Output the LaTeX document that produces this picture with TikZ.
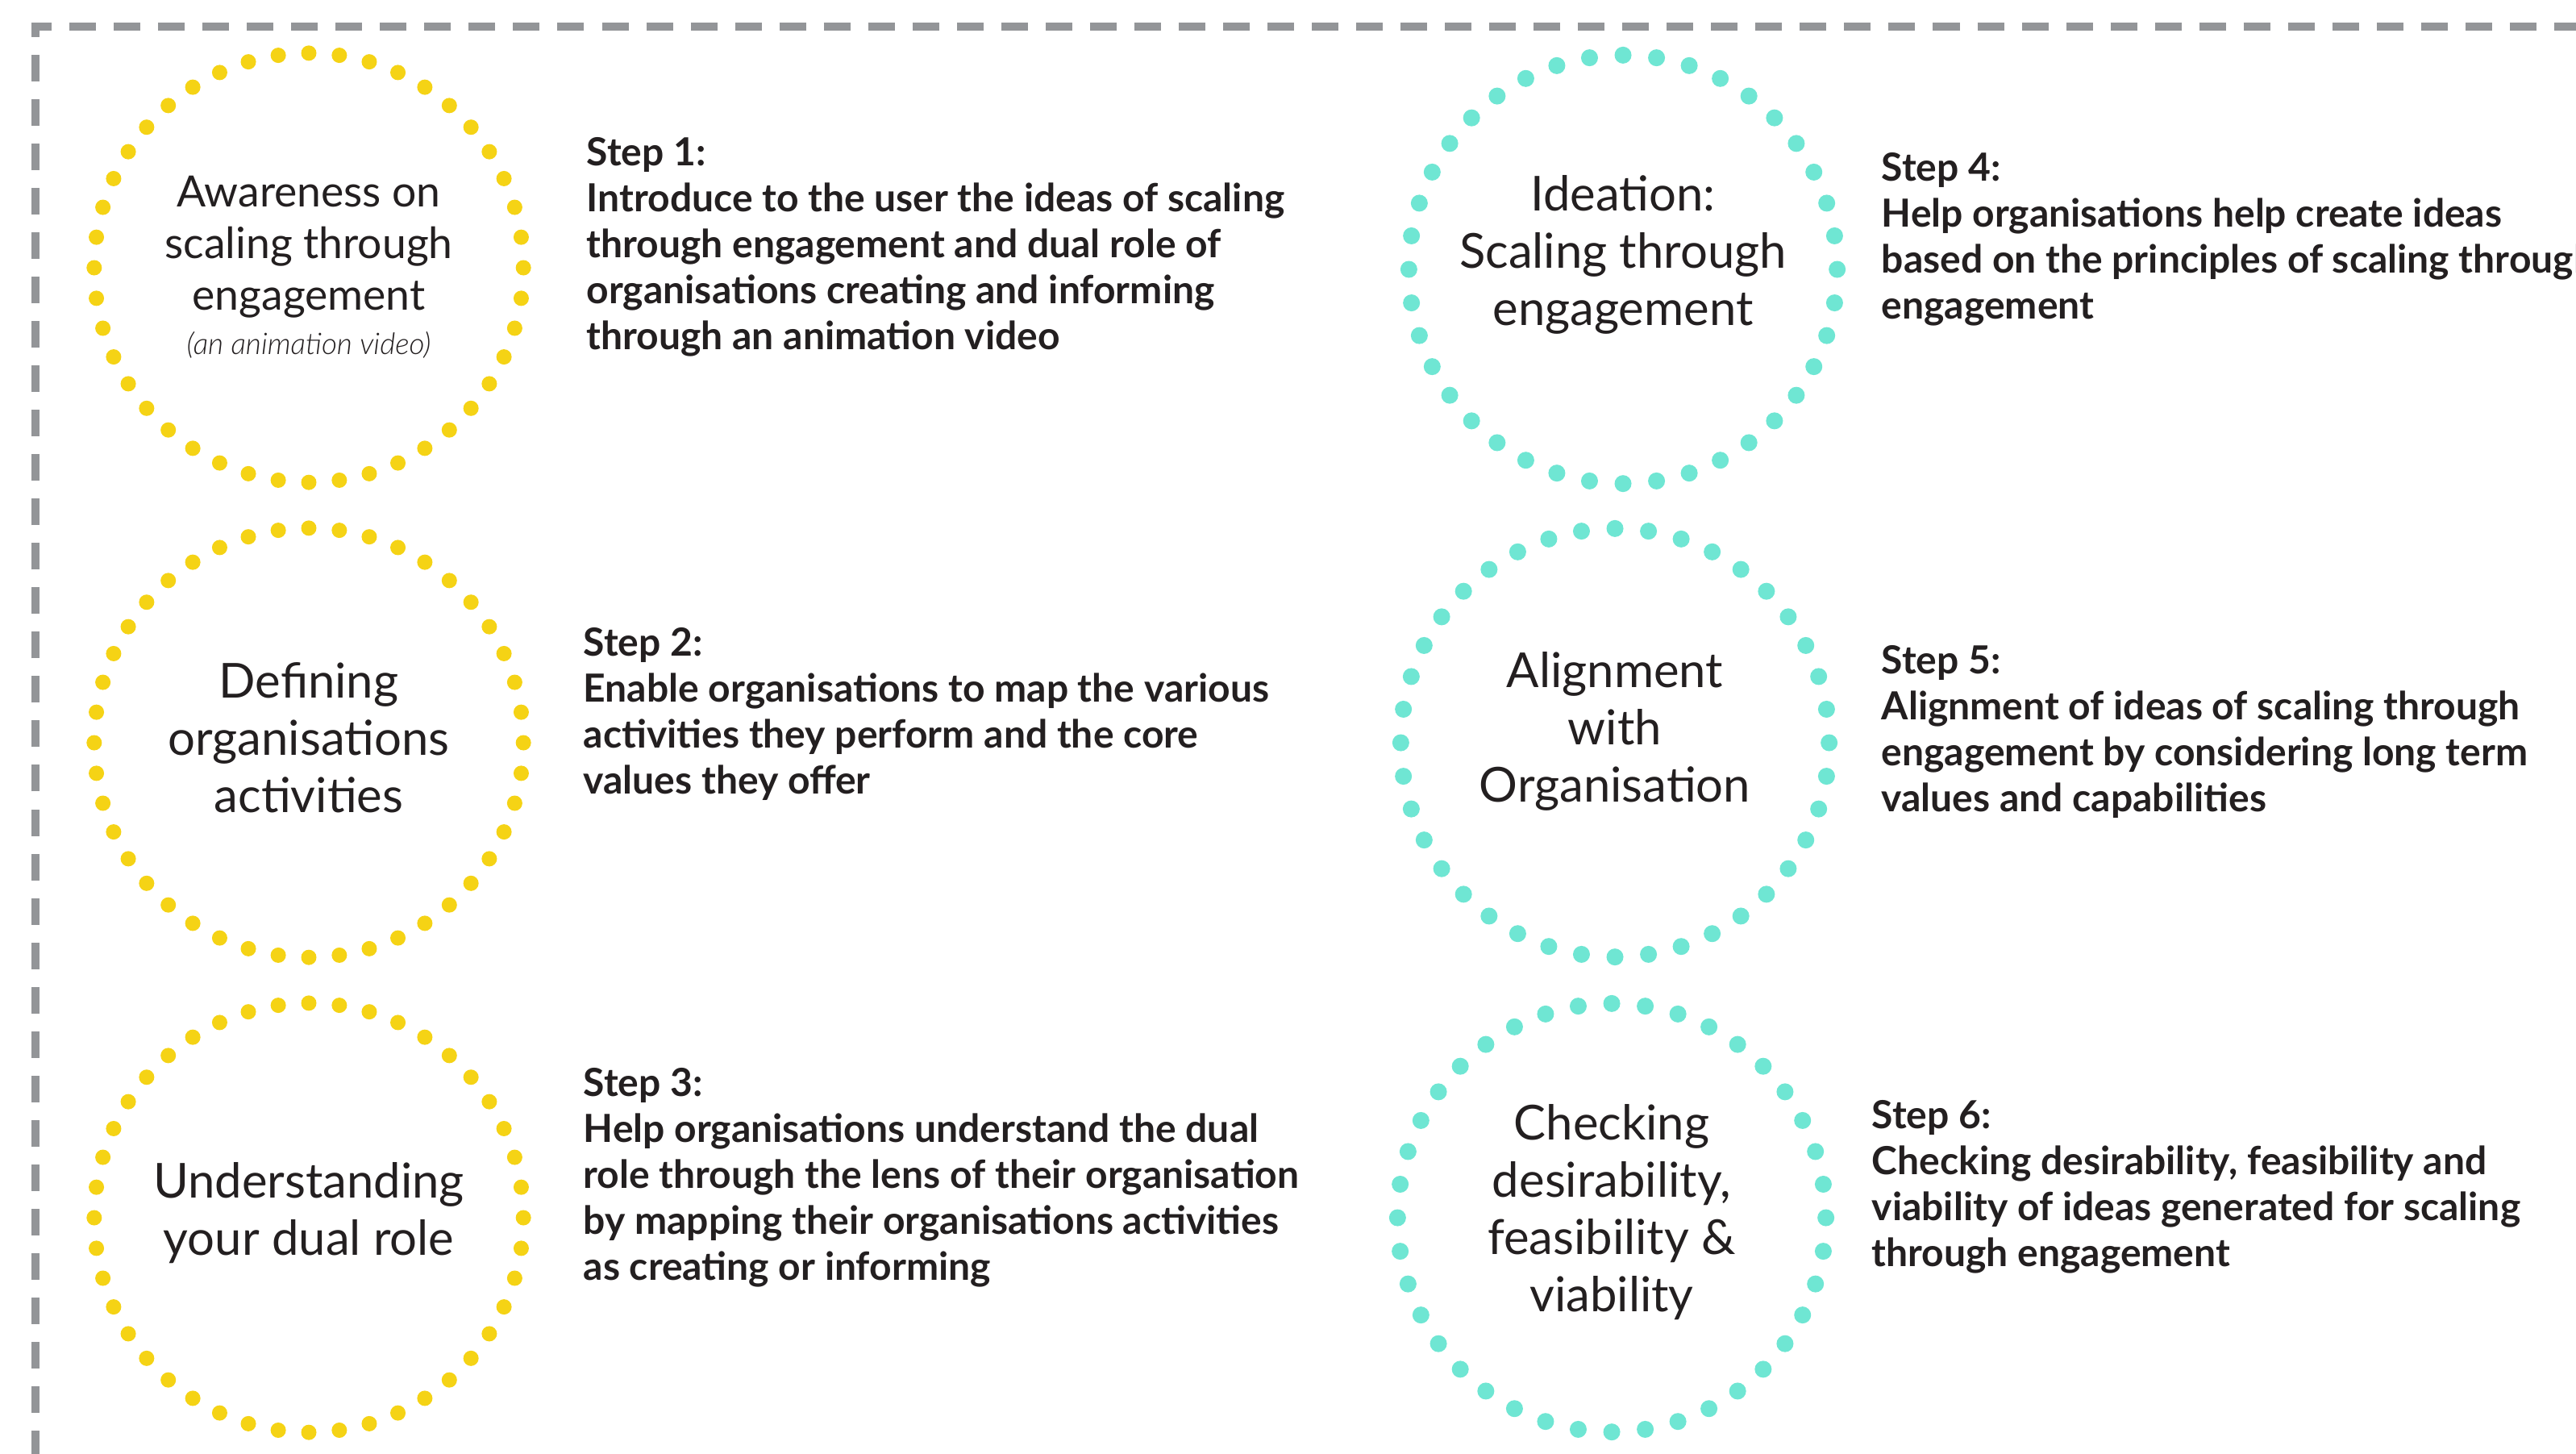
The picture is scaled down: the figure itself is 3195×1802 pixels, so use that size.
\documentclass[tikz,border=0pt]{standalone}
\usepackage{fontspec}
\setmainfont{Lato}
\IfFontExistsTF{Lato Light}{\newfontfamily\lightital{Lato Light}}{\newfontfamily\lightital{Lato}}
\usetikzlibrary{calc}
\definecolor{dotyellow}{HTML}{F5D315}
\definecolor{dotteal}{HTML}{6FE6D3}
\definecolor{bordergray}{HTML}{939598}
\definecolor{txt}{HTML}{231F20}
\begin{document}
\begin{tikzpicture}[x=0.01cm,y=-0.01cm,
  circtext/.style={align=center, font=\fontsize{17}{20.2}\selectfont, text=txt, inner sep=0pt},
  steptext/.style={align=left, anchor=north west, font=\bfseries\fontsize{13.65}{16.2}\selectfont, text=txt, inner sep=0pt},
  border/.style={draw=bordergray, line width=2.85pt, dash pattern=on 0.33cm off 0.22cm, dash phase=0.17cm}]
\useasboundingbox (0,0) rectangle (3195,1802);
\clip (0,0) rectangle (3195,1802);
% border
\draw[border] (44,1900) -- (44,33) -- (3300,33);
% circle nodes
\node[circtext, font=\fontsize{15.2}{18.2}\selectfont] (c1) at (383,331) {Awareness on\\scaling through\\engagement\\[-2.5pt]{\fontsize{10.5}{12}\selectfont\lightital\itshape (an animation video)}};
\node[circtext] (c2) at (383,915) {Defining\\organisations\\activities};
\node[circtext] (c3) at (383,1504) {Understanding\\your dual role};
\node[circtext] (c4) at (2013,316) {Ideation:\\Scaling through\\engagement};
\node[circtext] (c5) at (2003,907) {Alignment\\with\\Organisation};
\node[circtext] (c6) at (1999,1503) {Checking\\desirability,\\feasibility \&\\viability};
% dotted rings
\foreach \i in {1,...,44} {
  \fill[dotyellow] ($(383,332)+({\i*360/44}:2.66cm)$) circle (0.095cm);
  \fill[dotyellow] ($(383,921)+({\i*360/44}:2.66cm)$) circle (0.095cm);
  \fill[dotyellow] ($(383,1510)+({\i*360/44}:2.66cm)$) circle (0.095cm);
}
\foreach \i in {1,...,40} {
  \fill[dotteal] ($(2013,334)+({\i*360/40}:2.655cm)$) circle (0.105cm);
  \fill[dotteal] ($(2003,921)+({\i*360/40}:2.655cm)$) circle (0.105cm);
  \fill[dotteal] ($(1999,1510)+({\i*360/40}:2.655cm)$) circle (0.105cm);
}
% step texts
\node[steptext] (s1) at (727,170) {Step 1:\\Introduce to the user the ideas of scaling\\through engagement and dual role of\\organisations creating and informing\\through an animation video};
\node[steptext] (s2) at (723,778) {Step 2:\\Enable organisations to map the various\\activities they perform and the core\\values they offer};
\node[steptext] (s3) at (723,1324) {Step 3:\\Help organisations understand the dual\\role through the lens of their organisation\\by mapping their organisations activities\\as creating or informing};
\node[steptext] (s4) at (2333,189) {Step 4:\\Help organisations help create ideas\\based on the principles of scaling through\\engagement};
\node[steptext] (s5) at (2333,800) {Step 5:\\Alignment of ideas of scaling through\\engagement by considering long term\\values and capabilities};
\node[steptext] (s6) at (2321,1364) {Step 6:\\Checking desirability, feasibility and\\viability of ideas generated for scaling\\through engagement};
\end{tikzpicture}
\end{document}
